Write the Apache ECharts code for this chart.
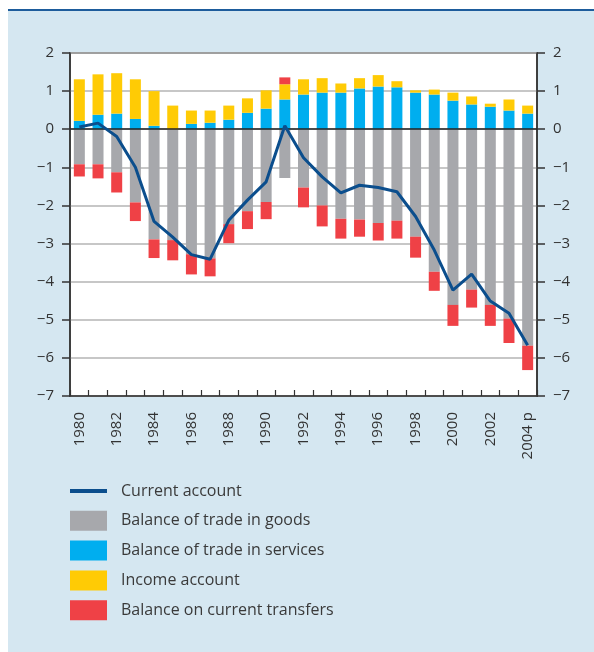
<!DOCTYPE html>
<html>
<head>
<meta charset="utf-8">
<script src="https://cdn.jsdelivr.net/npm/echarts@6/dist/echarts.min.js"></script>
<style>
  html, body { margin: 0; padding: 0; background: #fff; }
  #chart { width: 594px; height: 652px; }
</style>
</head>
<body>
<div id="chart"></div>
<script>
// years (2004 provisional)
const years = ['1980', '1981', '1982', '1983', '1984', '1985', '1986', '1987', '1988', '1989',
  '1990', '1991', '1992', '1993', '1994', '1995', '1996', '1997', '1998', '1999',
  '2000', '2001', '2002', '2003', '2004 p']
// % of GDP
const goods = [-0.92, -0.92, -1.13, -1.92, -2.89, -2.91, -3.28, -3.39, -2.49, -2.15,
  -1.91, -1.28, -1.53, -2.0, -2.35, -2.37, -2.46, -2.4, -2.82, -3.74,
  -4.61, -4.21, -4.61, -4.97, -5.68]
const services = [0.22, 0.38, 0.41, 0.27, 0.09, 0, 0.14, 0.17, 0.25, 0.43,
  0.54, 0.78, 0.91, 0.96, 0.96, 1.07, 1.12, 1.1, 0.96, 0.91,
  0.75, 0.65, 0.59, 0.49, 0.41]
const income = [1.09, 1.06, 1.06, 1.04, 0.91, 0.62, 0.35, 0.32, 0.37, 0.38,
  0.48, 0.4, 0.4, 0.38, 0.24, 0.27, 0.3, 0.16, 0.06, 0.13,
  0.21, 0.21, 0.08, 0.29, 0.21]
const transfers = [-0.32, -0.37, -0.53, -0.49, -0.49, -0.53, -0.53, -0.47, -0.5, -0.47,
  -0.45, 0.18, -0.52, -0.55, -0.52, -0.45, -0.46, -0.47, -0.55, -0.5,
  -0.55, -0.47, -0.55, -0.64, -0.64]
const currentAccount = [0.06, 0.16, -0.19, -1.0, -2.42, -2.83, -3.29, -3.41, -2.39, -1.86,
  -1.38, 0.09, -0.75, -1.25, -1.67, -1.47, -1.53, -1.64, -2.29, -3.17,
  -4.22, -3.8, -4.51, -4.83, -5.67]

const font = '"Open Sans", "Noto Sans", sans-serif'
const minus = v => String(v).replace('-', '\u2212')

let myChart = echarts.init(document.getElementById('chart'))

const yAxisBase = {
  type: 'value',
  min: -7,
  max: 2,
  interval: 1,
  axisLine: { show: true, lineStyle: { color: '#333', width: 1.5 } },
  axisTick: { show: true, length: 8, lineStyle: { color: '#333', width: 1.5 } },
  axisLabel: { color: '#333', fontSize: 15, fontFamily: font, margin: 16, formatter: minus }
}

const barBase = {
  type: 'bar',
  stack: 'ca',
  barWidth: 11
}

let options = {
  backgroundColor: '#fff',
  animation: false,
  textStyle: { fontFamily: font },
  graphic: [
    { type: 'rect', left: 8, top: 10, shape: { width: 586, height: 642 }, style: { fill: '#d5e7f1' }, z: -10 },
    { type: 'rect', left: 8, top: 9, shape: { width: 586, height: 2 }, style: { fill: '#1d5c9c' }, z: -9 }
  ],
  grid: {
    left: 70,
    right: 57,
    top: 53,
    height: 343,
    show: true,
    backgroundColor: '#fff',
    borderColor: '#333',
    borderWidth: 1.5
  },
  legend: {
    orient: 'vertical',
    left: 70,
    top: 481,
    padding: 0,
    itemWidth: 37,
    itemHeight: 20,
    itemGap: 9.8,
    icon: 'rect',
    symbolKeepAspect: true,
    textStyle: { color: '#3a3a3a', fontSize: 16, lineHeight: 20, fontFamily: font, padding: [0, 0, 0, 9] },
    data: [
      { name: 'Current account', icon: 'path://M0,0 L37,0 L37,4 L0,4 Z' },
      'Balance of trade in goods', 'Balance of trade in services',
      'Income account', 'Balance on current transfers'
    ]
  },
  xAxis: {
    type: 'category',
    data: years,
    position: 'bottom',
    axisLine: { onZero: false, lineStyle: { color: '#333', width: 1.5 } },
    axisTick: { show: true, inside: true, length: 6, interval: 0, lineStyle: { color: '#333', width: 1.2 } },
    axisLabel: { interval: 1, rotate: 90, color: '#333', fontSize: 15, fontFamily: font, margin: 16 },
    splitLine: { show: false }
  },
  yAxis: [
    Object.assign({}, yAxisBase, {
      position: 'left',
      splitLine: { show: true, lineStyle: { color: '#b5b5b5', width: 1.5 } }
    }),
    Object.assign({}, yAxisBase, {
      position: 'right',
      splitLine: { show: false }
    })
  ],
  series: [
    Object.assign({}, barBase, {
      name: 'Balance of trade in goods',
      data: goods,
      itemStyle: { color: '#a7a8ac' }
    }),
    Object.assign({}, barBase, {
      name: 'Balance of trade in services',
      data: services,
      itemStyle: { color: '#00aeef' }
    }),
    Object.assign({}, barBase, {
      name: 'Income account',
      data: income,
      itemStyle: { color: '#ffcb05' }
    }),
    Object.assign({}, barBase, {
      name: 'Balance on current transfers',
      data: transfers,
      itemStyle: { color: '#ef4146' }
    }),
    {
      name: 'Current account',
      type: 'line',
      data: currentAccount,
      symbol: 'none',
      z: 5,
      lineStyle: { color: '#0b4e8d', width: 3 },
      itemStyle: { color: '#0b4e8d' },
      markLine: {
        silent: true,
        symbol: 'none',
        label: { show: false },
        lineStyle: { color: '#222', width: 1.5, type: 'solid' },
        data: [{ yAxis: 0 }]
      }
    }
  ]
}

myChart.setOption(options)
</script>
</body>
</html>
